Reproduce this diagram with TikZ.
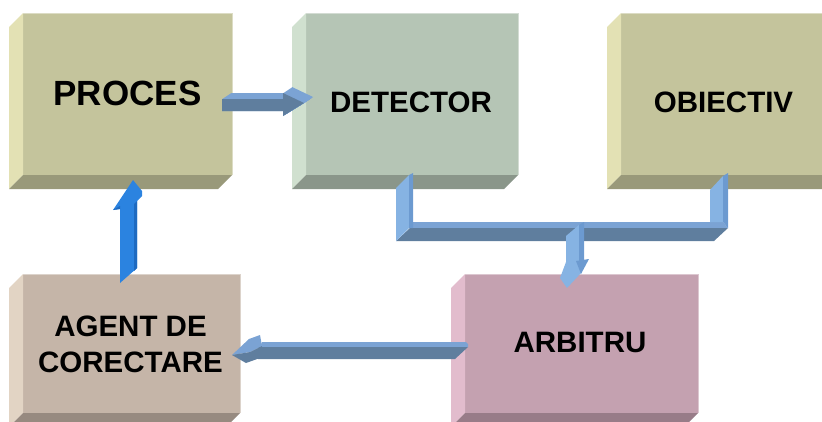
\documentclass[tikz,border=0pt]{standalone}
\usepackage{fontspec}
\setmainfont{Liberation Sans}
\usetikzlibrary{calc,fit}

\definecolor{procF}{HTML}{C4C49C}\definecolor{procL}{HTML}{E3E1B4}\definecolor{procB}{HTML}{99997A}
\definecolor{detF}{HTML}{B5C5B5}\definecolor{detL}{HTML}{D0E0CF}\definecolor{detB}{HTML}{8A968A}
\definecolor{agF}{HTML}{C5B5A8}\definecolor{agL}{HTML}{E2D4C4}\definecolor{agB}{HTML}{978A80}
\definecolor{arbF}{HTML}{C4A1B0}\definecolor{arbL}{HTML}{E2BCCD}\definecolor{arbB}{HTML}{987C88}
\definecolor{arrLight}{HTML}{86B3E3}\definecolor{arrMid}{HTML}{6C9AD0}
\definecolor{arrDark}{HTML}{5F7E9E}\definecolor{arrTop}{HTML}{7BA3D4}
\definecolor{upF}{HTML}{2B83E0}\definecolor{upD}{HTML}{1E6AC0}

\tikzset{
  face/.style={inner sep=0pt, outer sep=0pt, draw=none},
  lbl/.style={font=\bfseries\fontsize{29.5}{36}\selectfont, align=center, inner sep=0pt, text=black},
  biglbl/.style={lbl, font=\bfseries\fontsize{35}{40}\selectfont}
}

% name, x1, y1, x2, y2, colour prefix
\newcommand\bevbox[6]{%
  \coordinate (#1-nw) at (#2,#3);
  \coordinate (#1-se) at (#4,#5);
  \node[face, fit=(#1-nw)(#1-se), fill=#6F] (#1) {};
  \fill[#6L] (#1.north west) -- ++(-14,14) -- ($(#1.south west)+(-14,14)$) -- (#1.south west) -- cycle;
  \fill[#6B] (#1.south west) -- (#1.south east) -- ++(-14,14) -- ($(#1.south west)+(-14,14)$) -- cycle;
  \draw[#6F!60!white, line width=0.8pt] (#1.north west) -- (#1.north east) -- (#1.south east);
}

\begin{document}
\begin{tikzpicture}[x=1pt,y=-1pt]
\useasboundingbox (0,0) rectangle (822,421);
\clip (0,0) rectangle (822,421);

% boxes
\bevbox{proces}{23}{13}{232}{175}{proc}
\bevbox{det}{306}{13}{518}{175}{det}
\bevbox{obj}{621}{13}{840}{175}{proc}
\bevbox{agent}{23}{274}{240}{413}{ag}
\bevbox{arb}{465}{274}{698}{413}{arb}

% labels
\node[biglbl] (procest) at ($(proces.center)+(0,-1)$) {PROCES};
\node[lbl] (dett) at ($(det.center)+(-1,8)$) {DETECTOR};
\node[lbl] (objt) at ($(obj.center)+(-7,8.5)$) {OBIECTIV};
\node[lbl] (agentt) at ($(agent.center)+(-1,1)$) {AGENT DE\\CORECTARE};
\node[lbl] (arbt) at ($(arb.center)+(-1.5,-1.5)$) {ARBITRU};

% PROCES -> DETECTOR (3D arrow)
\begin{scope}[shift={($(proces.east)-(232,94)$)}]
  \foreach \t in {0,0.5,...,9}
    \fill[arrTop, shift={(\t,-\t*0.667)}] (222,99) -- (283,99) -- (283,93) -- (304,103) -- (283,116) -- (283,111) -- (222,111) -- cycle;
  \fill[arrDark] (222,99) -- (283,99) -- (283,93) -- (304,103) -- (283,116) -- (283,111) -- (222,111) -- cycle;
\end{scope}

% DETECTOR + OBIECTIV -> ARBITRU (bracket connector)
\begin{scope}[shift={($(det.south)-(412,175)$)}]
  \fill[arrTop] (413,222) -- (723,222) -- (728,228) -- (410,228) -- cycle;
  \fill[arrDark] (396,241) -- (410,228) -- (728,228) -- (714,241) -- cycle;
  \fill[arrLight] (396,188) -- (409,175) -- (409,228) -- (396,241) -- cycle;
  \fill[arrMid] (409,175) -- (413,173) -- (413,228) -- (409,228) -- cycle;
  \fill[arrLight] (710,190) -- (723,176) -- (723,222) -- (710,222) -- cycle;
  \fill[arrMid] (723,176) -- (728,173) -- (728,228) -- (723,222) -- cycle;
\end{scope}
\begin{scope}[shift={($(arb.north)-(581.5,274)$)}]
  \fill[arrLight] (566,236) -- (579,225) -- (579,263) -- (566,263) -- cycle;
  \fill[arrMid] (579,225) -- (584,222) -- (584,260) -- (579,263) -- cycle;
  \fill[arrLight] (566,262) -- (577,262) -- (582,272) -- (567,288) -- (560,278) -- cycle;
  \fill[arrMid] (576,261) -- (589,259) -- (581,274) -- cycle;
\end{scope}

% AGENT DE CORECTARE -> PROCES (up arrow)
\begin{scope}[shift={($(agent.north)-(131.5,274)$)}]
  \fill[upF] (120,283) -- (120,209) -- (113,210) -- (133,180) -- (142,191) -- (142,196) -- (137,201) -- (137,268) -- cycle;
  \fill[upD] (134,204) -- (137,201) -- (137,268) -- (134,271) -- cycle;
  \fill[upD] (113,210) -- (120,206) -- (120,209) -- cycle;
\end{scope}

% ARBITRU -> AGENT DE CORECTARE (left arrow)
\begin{scope}[shift={($(agent.east)-(240,343.5)$)}]
  \fill[arrTop] (262,342) -- (466,342) -- (468,344) -- (468,347) -- (260,347) -- cycle;
  \fill[arrDark] (258,347) -- (468,347) -- (455,359) -- (258,359) -- cycle;
  \fill[arrTop] (232,355) -- (249,339) -- (260,335) -- (262,346) -- (250,352) -- cycle;
  \fill[arrDark] (232,355) -- (250,352) -- (262,346) -- (260,358) -- (246,363) -- cycle;
\end{scope}
\end{tikzpicture}
\end{document}
